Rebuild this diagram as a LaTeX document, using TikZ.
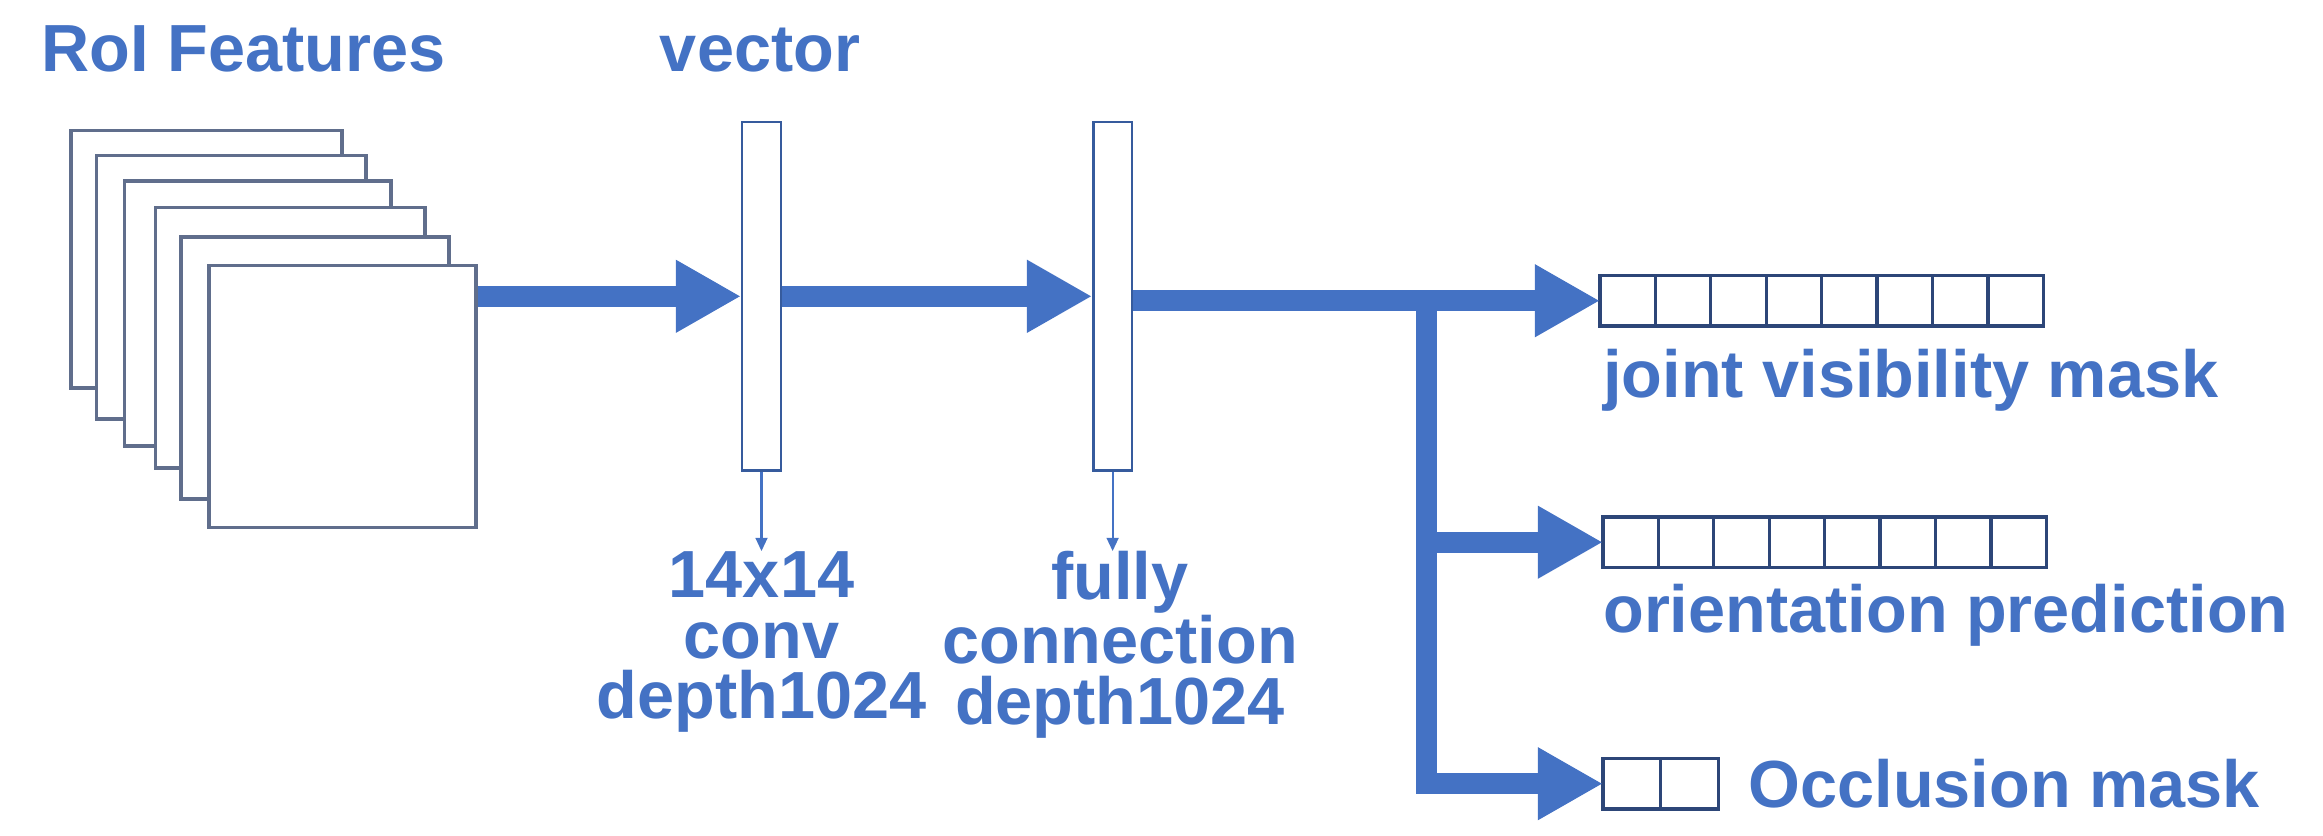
\documentclass[tikz,border=0pt]{standalone}
\usepackage{fontspec}
\setmainfont{Liberation Sans}
\usetikzlibrary{arrows.meta}
\definecolor{tb}{RGB}{68,114,196}
\definecolor{fr}{RGB}{96,110,140}
\definecolor{bx}{RGB}{45,70,120}
\begin{document}
\begin{tikzpicture}[x=1pt,y=-1pt,
  lbl/.style={text=tb,font=\bfseries\fontsize{45}{41}\selectfont,inner sep=0pt,align=center},
  frame/.style={draw=fr,line width=2.4pt,fill=white},
  vbox/.style={draw=tb!80!black,line width=1.6pt,fill=white},
  fat/.style={draw=tb,line width=14pt,-{Triangle[length=44pt,width=46pt]}},
  thin/.style={draw=tb,line width=1.5pt,-{Triangle[length=9pt,width=8pt]}},
  cell/.style={draw=bx,line width=2.2pt,fill=white}]
\useasboundingbox (0,0) rectangle (1568,564);
% frames
\draw[frame] (48,88) rectangle (231,262);
\draw[frame] (65,105) rectangle (247,283);
\draw[frame] (84,122) rectangle (264,301);
\draw[frame] (105,140) rectangle (287,316);
\draw[frame] (122,160) rectangle (303,337);
\node[frame,minimum width=180pt,minimum height=177pt,anchor=north west,inner sep=0pt] (f) at (140,178) {};
\node[lbl,anchor=base west] (roi) at (28,48) {RoI Features};
% vector boxes
\node[vbox,minimum width=26pt,minimum height=235pt,inner sep=0pt] (v1) at (514,200) {};
\node[vbox,minimum width=26pt,minimum height=235pt,inner sep=0pt] (v2) at (751,200) {};
\node[lbl,anchor=base] (vt) at (513,48) {vector};
\node[lbl,anchor=north] (t1) at (514,372) {14x14\\conv\\depth1024};
\node[lbl,anchor=north] (t2) at (756,372) {fully\\connection\\depth1024};
\draw[thin] (v1.south) -- (v1.south |- t1.north);
\draw[thin] (v2.south) -- (v2.south |- t2.north);
\draw[fat] (f.east |- 0,200) -- (v1.west |- 0,200);
\draw[fat] (v1.east |- 0,200) -- (v2.west |- 0,200);
% output boxes
\foreach \i in {0,...,7} {\draw[cell] (1080+\i*37.4,186) rectangle ++(37.4,34);}
\foreach \i in {0,...,7} {\draw[cell] (1082+\i*37.4,349) rectangle ++(37.4,34);}
\foreach \i in {0,1} {\draw[cell] (1082+\i*39,512) rectangle ++(39,34);}
\coordinate (o1) at (1080,203);
\coordinate (o2) at (1082,366);
\coordinate (o3) at (1082,529);
\coordinate (j) at (963,203);
\draw[fat] (v2.east |- 0,203) -- (o1);
\draw[fat] (j) |- (o2);
\draw[fat] (j) |- (o3);
\node[lbl,anchor=base west] (l1) at (1082,268) {joint visibility mask};
\node[lbl,anchor=base west] (l2) at (1082,427) {orientation prediction};
\node[lbl,anchor=base west] (l3) at (1180,545) {Occlusion mask};
\end{tikzpicture}
\end{document}
